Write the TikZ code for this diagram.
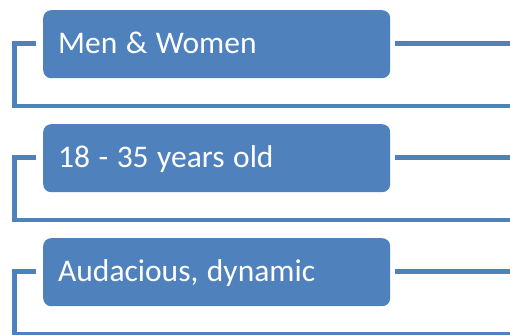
\documentclass[tikz,border=0pt]{standalone}
\usepackage{fontspec}
\setmainfont{Carlito}
\definecolor{ofblue}{HTML}{4F81BD}
\newcommand\tightsp{\spaceskip=8.5pt plus 0pt minus 0pt\relax}
\begin{document}
\begin{tikzpicture}[x=1pt,y=-1pt,
  box/.style={draw=none,fill=ofblue,rounded corners=8pt,minimum width=347pt,minimum height=68pt,
    inner xsep=15pt,inner ysep=0pt,text width=317pt,text=white,
    font=\fontsize{31.5}{37}\selectfont,text height=24pt,text depth=5.4pt,anchor=north west},
  conn/.style={draw=ofblue,line width=4.3pt,line cap=butt,line join=miter}]
\useasboundingbox (0,0) rectangle (510,334);
\node[box] (b1) at (43,10) {\tightsp Men \& Women};
\node[box] (b2) at (43,124) {\tightsp 18 - 35 years old};
\node[box] (b3) at (43,238) {\tightsp Audacious, dynamic};
\coordinate (r1) at (512,106.3);
\coordinate (r2) at (512,220.3);
\coordinate (r3) at (512,334.6);
\foreach \i in {1,2,3}{
  \draw[conn] ([xshift=-7pt,yshift=0.7pt]b\i.west) -- ++(-21.5,0) |- (r\i);
  \draw[conn] ([xshift=5pt,yshift=0.7pt]b\i.east) coordinate (s\i) -- (s\i -| r\i);
}
\end{tikzpicture}
\end{document}
